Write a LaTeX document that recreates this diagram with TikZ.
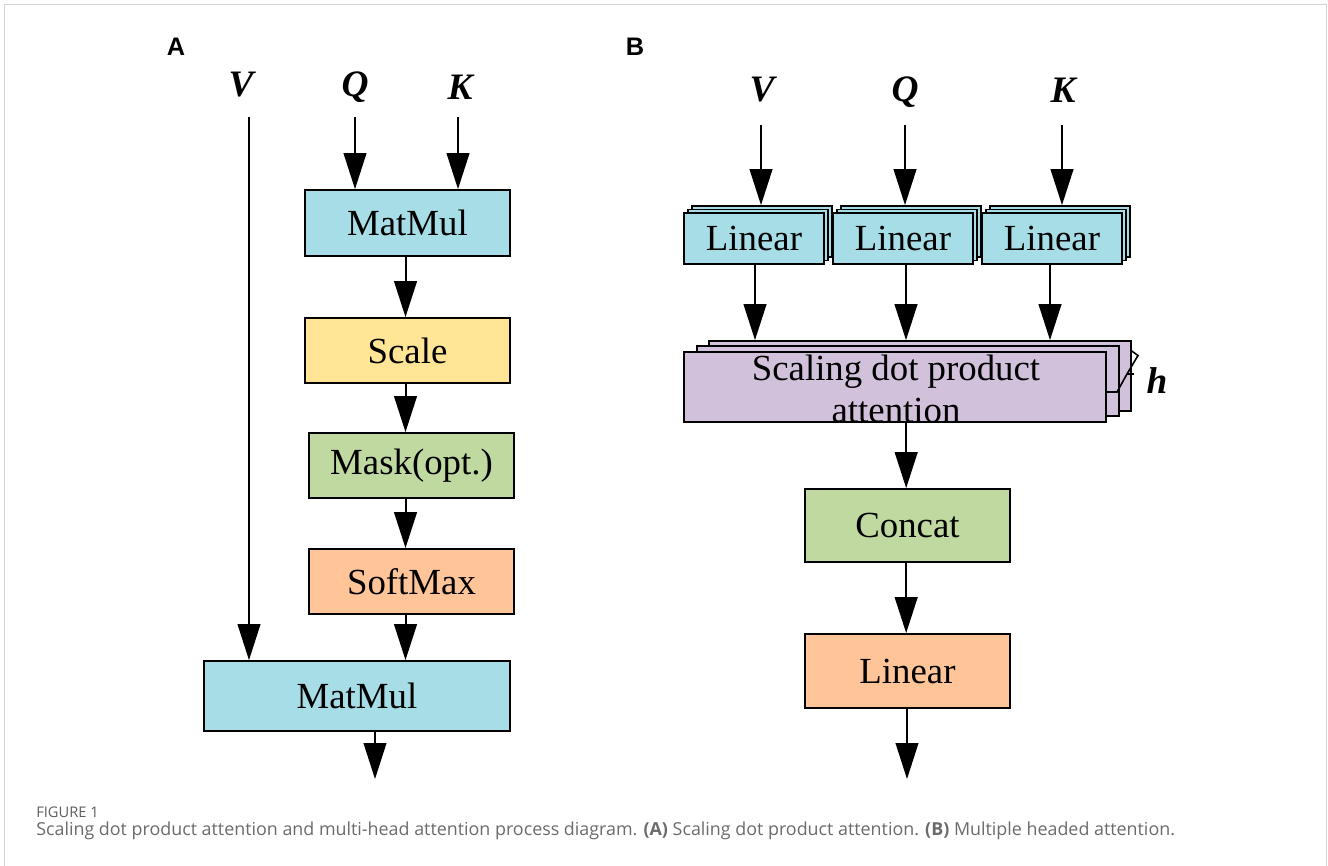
\documentclass[tikz,border=0pt]{standalone}
\usepackage{fontspec}
\setmainfont{Liberation Serif}
\newfontfamily\capfont{Open Sans}
\newfontfamily\panelfont{Liberation Sans}
\usetikzlibrary{arrows.meta,fit}
\definecolor{cyanF}{HTML}{A6DDE6}
\definecolor{yelF}{HTML}{FFE595}
\definecolor{grnF}{HTML}{C0D9A0}
\definecolor{orgF}{HTML}{FFC599}
\definecolor{purF}{HTML}{D2C1DA}
\definecolor{frameC}{HTML}{D4D4D4}
\definecolor{capC}{HTML}{6B6B6B}
\definecolor{figC}{HTML}{5E5E5E}
\newcommand\boxfont{\fontsize{27.6}{31}\selectfont}
\newcommand\iofont{\fontsize{28}{32}\selectfont\bfseries\itshape}
\newcommand\panfont{\panelfont\fontsize{19}{21}\selectfont\bfseries}
\begin{document}
\begin{tikzpicture}[x=0.75pt,y=-0.75pt,
  box/.style={draw=black, line width=1.3pt, inner sep=0pt},
  txt/.style={label={[font=\boxfont, inner sep=0pt]center:#1}},
  arr/.style={line width=1.5pt, -{Triangle[length=27pt,width=17pt]}},
  io/.style={font=\iofont, inner sep=0pt},
  pan/.style={font=\panfont, inner sep=0pt}]
\useasboundingbox (0,0) rectangle (1328,865);
% frame
\draw[frameC, line width=1.2pt] (4.5,870) -- (4.5,4.5) -- (1326.5,4.5) -- (1326.5,870);

% ---------- Panel A ----------
\node[pan] (labA) at (176,47) {A};
\node[io] (VA) at (241,85) {V};
\node[io] (QA) at (355,87) {Q};
\node[io] (KA) at (460,87) {K};
\coordinate (vAs) at (249,117);
\coordinate (qAs) at (355,117);
\coordinate (kAs) at (458,117);
\coordinate (outA) at (375,779);

\node[box, fill=cyanF, fit={(305,190) (510,256)}, txt=MatMul] (mm1) {};
\node[box, fill=yelF, fit={(305,318) (510,383)}, txt=Scale] (sc) {};
\node[box, fill=grnF, fit={(309,433) (514,498)}, txt={Mask(opt.)}] (mask) {};
\node[box, fill=orgF, fit={(309,549) (514,614)}, txt=SoftMax] (soft) {};
\node[box, fill=cyanF, fit={(204,661) (510,731)}, txt=MatMul] (mm2) {};

\draw[arr] (qAs) -- (qAs |- mm1.north);
\draw[arr] (kAs) -- (kAs |- mm1.north);
\draw[arr] (vAs) -- (vAs |- mm2.north);
\draw[arr] ([xshift=-1.5pt]mm1.south) -- ([xshift=-1.5pt]mm1.south |- sc.north);
\draw[arr] ([xshift=-1.5pt]sc.south) -- ([xshift=-1.5pt]sc.south |- mask.north);
\draw[arr] ([xshift=-4.5pt]mask.south) -- ([xshift=-4.5pt]mask.south |- soft.north);
\draw[arr] ([xshift=-4.5pt]soft.south) -- ([xshift=-4.5pt]soft.south |- mm2.north);
\draw[arr] (outA |- mm2.south) -- (outA);

% ---------- Panel B ----------
\node[pan] (labB) at (635,47) {B};
\node[io] (VB) at (762,90) {V};
\node[io] (QB) at (905,92) {Q};
\node[io] (KB) at (1063,90) {K};
\coordinate (vBs) at (761,125);
\coordinate (qBs) at (905,125);
\coordinate (kBs) at (1062,125);
\coordinate (outB) at (907,779);

% stacked Linear boxes
\node[box, fill=cyanF, fit={(692,206) (832,257)}] (lin1c) {};
\node[box, fill=cyanF, fit={(688,209.5) (828,260.5)}] (lin1b) {};
\node[box, fill=cyanF, fit={(684,213) (824,264)}, txt=Linear] (lin1) {};
\node[box, fill=cyanF, fit={(841,206) (981,257)}] (lin2c) {};
\node[box, fill=cyanF, fit={(837,209.5) (977,260.5)}] (lin2b) {};
\node[box, fill=cyanF, fit={(833,213) (973,264)}, txt=Linear] (lin2) {};
\node[box, fill=cyanF, fit={(990,206) (1130,257)}] (lin3c) {};
\node[box, fill=cyanF, fit={(986,209.5) (1126,260.5)}] (lin3b) {};
\node[box, fill=cyanF, fit={(982,213) (1122,264)}, txt=Linear] (lin3) {};

% stacked attention boxes
\node[box, fill=purF, fit={(709,341) (1131,411)}] (attc) {};
\node[box, fill=purF, fit={(697,346) (1119,416)}] (attb) {};
\node[box, fill=purF, fit={(684,352) (1106,422)}] (att) {};
\node[font=\boxfont, align=center, inner sep=0pt] (atttxt) at (896,389) {Scaling dot product\\attention};

\node[box, fill=grnF, fit={(805,489) (1010,562)}, txt=Concat] (concat) {};
\node[box, fill=orgF, fit={(805,634) (1010,708)}, txt=Linear] (linO) {};

\draw[arr] (vBs) -- (vBs |- lin1c.north);
\draw[arr] (qBs) -- (qBs |- lin2c.north);
\draw[arr] (kBs) -- (kBs |- lin3c.north);
\draw[arr] ([xshift=0.75pt]lin1.south) -- ([xshift=0.75pt]lin1.south |- attc.north);
\draw[arr] ([xshift=2.25pt]lin2.south) -- ([xshift=2.25pt]lin2.south |- attc.north);
\draw[arr] ([xshift=-1.5pt]lin3.south) -- ([xshift=-1.5pt]lin3.south |- attc.north);
\draw[arr] ([xshift=-1pt]concat.north |- att.south) -- ([xshift=-1pt]concat.north);
\draw[arr] ([xshift=-1pt]concat.south) -- ([xshift=-1pt]linO.north);
\draw[arr] (outB |- linO.south) -- (outB);

% h brace
\draw[line width=1.2pt, line join=miter] (1106,392) -- (1117,392) -- (1127,374) -- (1138,355.5) -- (1131,350.5);
\draw[line width=1.2pt] (1127,374) -- (1134,374);
\node[io] (hB) at (1157,381) {h};

% caption
\node[anchor=west, inner sep=0pt, text=figC, font=\capfont\fontsize{11}{13}\selectfont] (figlab) at (36,812) {FIGURE 1};
\node[anchor=west, inner sep=0pt, text=capC, font=\capfont] (cap) at (36,831)
  {\resizebox{854pt}{!}{Scaling dot product attention and multi-head attention process diagram. \textbf{(A)} Scaling dot product attention. \textbf{(B)} Multiple headed attention.}};
\end{tikzpicture}
\end{document}
